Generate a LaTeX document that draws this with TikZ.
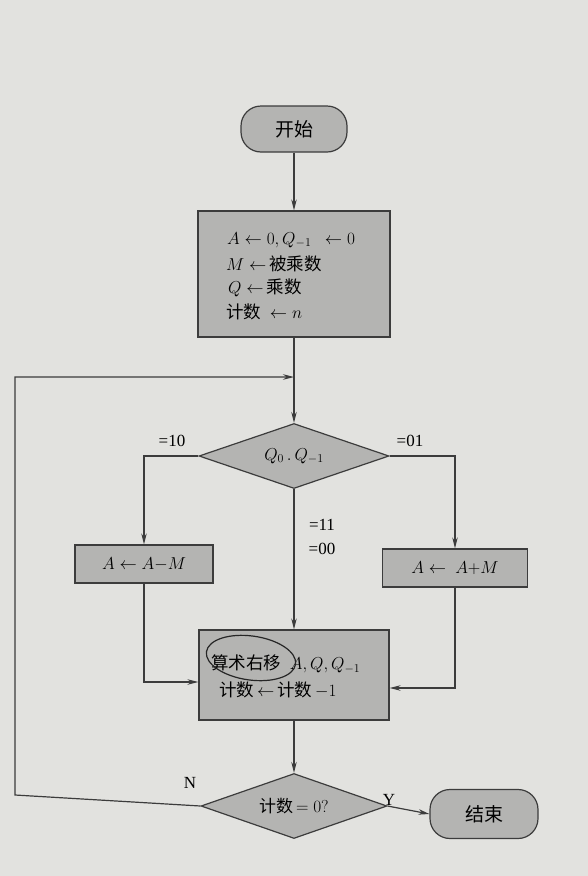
\documentclass[tikz,border=0pt]{standalone}
\usepackage{fontspec}
\setmainfont{Liberation Serif}
\newfontfamily\cjk{Noto Sans CJK SC}
\usetikzlibrary{shapes.geometric,arrows.meta}
\definecolor{pagebg}{RGB}{226,226,223}
\definecolor{boxgray}{RGB}{180,180,178}
\definecolor{linegray}{RGB}{60,60,60}
\begin{document}
\begin{tikzpicture}[x=1pt,y=-1pt,
  base/.style={draw=linegray, fill=boxgray, line width=1.2pt, inner sep=0pt, font=\fontsize{17}{24}\selectfont},
  procbox/.style={base, rectangle},
  termbox/.style={base, rectangle, rounded corners=20pt, font=\fontsize{19}{24}\selectfont},
  decbox/.style={base, diamond, aspect=2.9},
  arr/.style={draw=linegray, line width=1.2pt, -{Stealth[length=11pt,width=5.5pt]}},
  txt/.style={font=\fontsize{17.5}{20}\selectfont, inner sep=0pt, anchor=west},
  lbl/.style={font=\fontsize{17}{19}\selectfont, inner sep=0pt}
]
\fill[pagebg] (0,0) rectangle (588,876);
\useasboundingbox (0,0) rectangle (588,876);

\node[termbox, minimum width=106pt, minimum height=46pt] (start) at (294,129) {\cjk 开始};
\node[procbox, minimum width=192pt, minimum height=126pt] (init) at (294,274) {};
\node[txt] (i1) at (227,240) {$A\leftarrow 0,Q_{-1}\ \ \leftarrow 0$};
\node[txt] (i2) at (226,264) {$M\leftarrow$\,{\cjk 被乘数}};
\node[txt] (i3) at (228,288) {$Q\leftarrow$\,{\cjk 乘数}};
\node[txt] (i4) at (226,312) {{\cjk 计数}\ \ $\leftarrow n$};

\node[decbox, minimum width=190pt, minimum height=65pt] (dec1) at (294,456) {$Q_0\,.\,Q_{-1}$};
\node[procbox, minimum width=138pt, minimum height=38pt] (sub) at (144,564) {$A\leftarrow A{-}M$};
\node[procbox, minimum width=145pt, minimum height=38pt] (add) at (455,568) {$A\leftarrow\ A{+}M$};
\node[procbox, minimum width=190pt, minimum height=90pt] (shift) at (294,675) {};
\node[txt] (s1) at (211,664) {{\cjk 算术右移}\ \ $A,Q,Q_{-1}$};
\node[txt] (s2) at (219,690) {{\cjk 计数}\,$\leftarrow$\,{\cjk 计数}\,$-1$};
\node[decbox, minimum width=186pt, minimum height=65pt] (dec2) at (294,806) {{\cjk 计数}$\,=0?$};
\node[termbox, minimum width=108pt, minimum height=49pt] (end) at (484,814) {\cjk 结束};

% hand-drawn circle annotation
\draw[black!85, line width=1.2pt, rotate around={-8:(251,658)}] (251,658) ellipse (45pt and 22pt);

\coordinate (join) at (294,377);
\coordinate (c1) at (15,795);
\coordinate (c2) at (15,377);

\draw[arr] (start) -- (init);
\draw[arr] (init) -- (dec1);
\draw[arr] (dec2.west) -- (c1) -- (c2) -- (join);
\draw[arr] (dec1.west) -| (sub.north);
\draw[arr] (dec1.east) -| (add.north);
\draw[arr] (dec1.south) -- (shift.north);
\draw[arr] (sub.south) |- ([yshift=-7pt]shift.west);
\draw[arr] (add.south) |- ([yshift=-13pt]shift.east);
\draw[arr] (shift) -- (dec2);
\draw[arr] (dec2.east) -- (end.west);

\node[lbl] (l10) at (172,441) {=10};
\node[lbl] (l01) at (410,441) {=01};
\node[lbl] (l11) at (322,525) {=11};
\node[lbl] (l00) at (322,549) {=00};
\node[lbl] (lN) at (190,783) {N};
\node[lbl] (lY) at (389,800) {Y};
\end{tikzpicture}
\end{document}
